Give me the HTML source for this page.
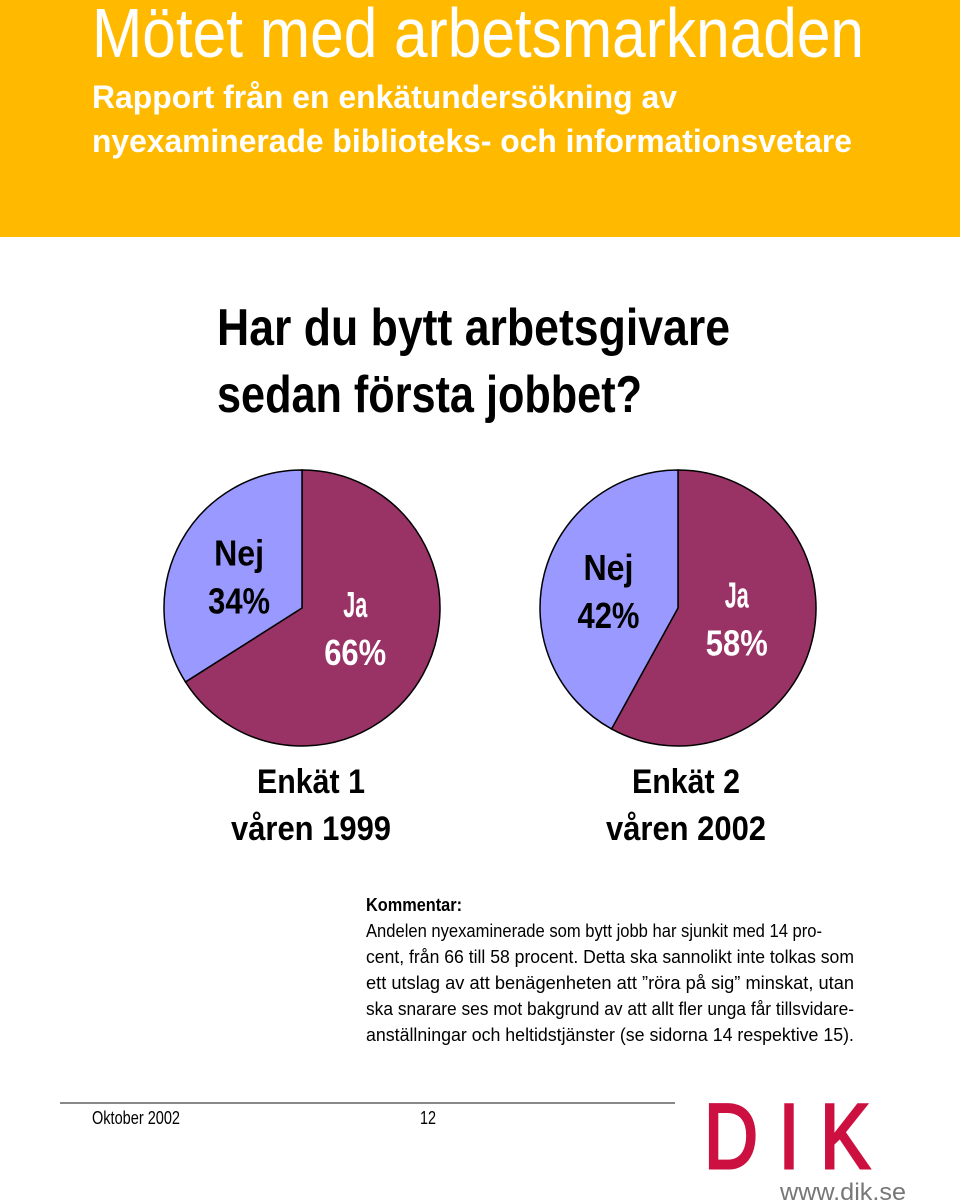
<!DOCTYPE html>
<html><head><meta charset="utf-8">
<style>
html,body{margin:0;padding:0;background:#fff;}
svg{display:block;}
text{font-family:"Liberation Sans Narrow","Liberation Sans",sans-serif;}
</style></head>
<body>
<svg width="960" height="1202" viewBox="0 0 960 1202">
<rect x="0" y="0" width="960" height="237" fill="#FFBA00"/>
<text x="92" y="57" font-size="70" fill="#fff" textLength="772" lengthAdjust="spacingAndGlyphs">Mötet med arbetsmarknaden</text>
<text x="92" y="108" font-size="32" font-weight="bold" fill="#fff" textLength="585" lengthAdjust="spacingAndGlyphs">Rapport från en enkätundersökning av</text>
<text x="92" y="152" font-size="32" font-weight="bold" fill="#fff" textLength="760" lengthAdjust="spacingAndGlyphs">nyexaminerade biblioteks- och informationsvetare</text>

<text x="217" y="345" font-size="52" font-weight="bold" fill="#000" textLength="513" lengthAdjust="spacingAndGlyphs">Har du bytt arbetsgivare</text>
<text x="217" y="412" font-size="52" font-weight="bold" fill="#000" textLength="425" lengthAdjust="spacingAndGlyphs">sedan första jobbet?</text>

<g id="pies"></g>

<text x="311" y="793" font-size="34" font-weight="bold" text-anchor="middle" textLength="108" lengthAdjust="spacingAndGlyphs">Enkät 1</text>
<text x="311" y="840" font-size="34" font-weight="bold" text-anchor="middle" textLength="160" lengthAdjust="spacingAndGlyphs">våren 1999</text>
<text x="686" y="793" font-size="34" font-weight="bold" text-anchor="middle" textLength="108" lengthAdjust="spacingAndGlyphs">Enkät 2</text>
<text x="686" y="840" font-size="34" font-weight="bold" text-anchor="middle" textLength="160" lengthAdjust="spacingAndGlyphs">våren 2002</text>

<g font-size="18" fill="#000">
<text x="366" y="911" font-weight="bold" textLength="96" lengthAdjust="spacingAndGlyphs">Kommentar:</text>
<text x="366" y="937" textLength="456" lengthAdjust="spacingAndGlyphs">Andelen nyexaminerade som bytt jobb har sjunkit med 14 pro-</text>
<text x="366" y="963" textLength="488" lengthAdjust="spacingAndGlyphs">cent, från 66 till 58 procent. Detta ska sannolikt inte tolkas som</text>
<text x="366" y="989" textLength="488" lengthAdjust="spacingAndGlyphs">ett utslag av att benägenheten att ”röra på sig” minskat, utan</text>
<text x="366" y="1015" textLength="488" lengthAdjust="spacingAndGlyphs">ska snarare ses mot bakgrund av att allt fler unga får tillsvidare-</text>
<text x="366" y="1041" textLength="488" lengthAdjust="spacingAndGlyphs">anställningar och heltidstjänster (se sidorna 14 respektive 15).</text>
</g>

<line x1="60" y1="1103" x2="675" y2="1103" stroke="#888" stroke-width="2"/>
<text x="92" y="1124" font-size="18" textLength="88" lengthAdjust="spacingAndGlyphs">Oktober 2002</text>
<text x="420" y="1124" font-size="18" textLength="16" lengthAdjust="spacingAndGlyphs">12</text>
<text x="704" y="1168" font-size="92" fill="#CC1040" stroke="#CC1040" stroke-width="3" textLength="166" lengthAdjust="spacingAndGlyphs">D I K</text>
<text x="780" y="1200" font-size="24" fill="#777" textLength="126" lengthAdjust="spacingAndGlyphs">www.dik.se</text>
</svg>
<script>
const surveys = ["Enkät 1", "Enkät 2"];
const nejValues = [34, 42];
const jaValues = [66, 58];
const pieCenters = [[302, 608], [678, 608]];
const R = 138;
const NS = "http://www.w3.org/2000/svg";
const g = document.getElementById('pies');
function pt(cx, cy, frac) {
  const a = -Math.PI / 2 - frac * 2 * Math.PI;
  return [cx + R * Math.cos(a), cy + R * Math.sin(a)];
}
function mk(tag, attrs) { const e = document.createElementNS(NS, tag); for (const k in attrs) e.setAttribute(k, attrs[k]); return e; }
surveys.forEach((s, i) => {
  const [cx, cy] = pieCenters[i];
  const total = nejValues[i] + jaValues[i];
  const f = nejValues[i] / total;
  const p = pt(cx, cy, f);
  const large = f > 0.5 ? 1 : 0;
  const nej = mk('path', {d: `M${cx},${cy} L${cx},${cy - R} A${R},${R} 0 ${large} 0 ${p[0]},${p[1]} Z`, fill: '#9999FF', stroke: '#000', 'stroke-width': 1.5});
  
  
  const ja = mk('path', {d: `M${cx},${cy} L${p[0]},${p[1]} A${R},${R} 0 ${1 - large} 0 ${cx},${cy - R} Z`, fill: '#993366', stroke: '#000', 'stroke-width': 1.5});
  
  
  g.appendChild(ja); g.appendChild(nej);
  const mn = pt(cx, cy, f / 2), mj = pt(cx, cy, f + (1 - f) / 2);
  const lx = cx + (mn[0] - cx) * 0.52, ly = cy + (mn[1] - cy) * 0.46;
  const jx = cx + (mj[0] - cx) * 0.44, jy = cy + (mj[1] - cy) * 0.3;
  [['Nej', ly - 12, 50], [nejValues[i] + '%', ly + 36, 62]].forEach((t, k) => {
    const e = mk('text', {x: lx, y: t[1], 'font-size': 36, 'font-weight': 'bold', 'text-anchor': 'middle', fill: '#000', textLength: t[2], lengthAdjust: 'spacingAndGlyphs'});
    e.textContent = t[0];
    
    
    g.appendChild(e);
  });
  [['Ja', jy - 11, 24], [jaValues[i] + '%', jy + 37, 62]].forEach((t, k) => {
    const e = mk('text', {x: jx, y: t[1], 'font-size': 36, 'font-weight': 'bold', 'text-anchor': 'middle', fill: '#fff', textLength: t[2], lengthAdjust: 'spacingAndGlyphs'});
    e.textContent = t[0];
    
    
    g.appendChild(e);
  });
});
</script>
</body></html>
